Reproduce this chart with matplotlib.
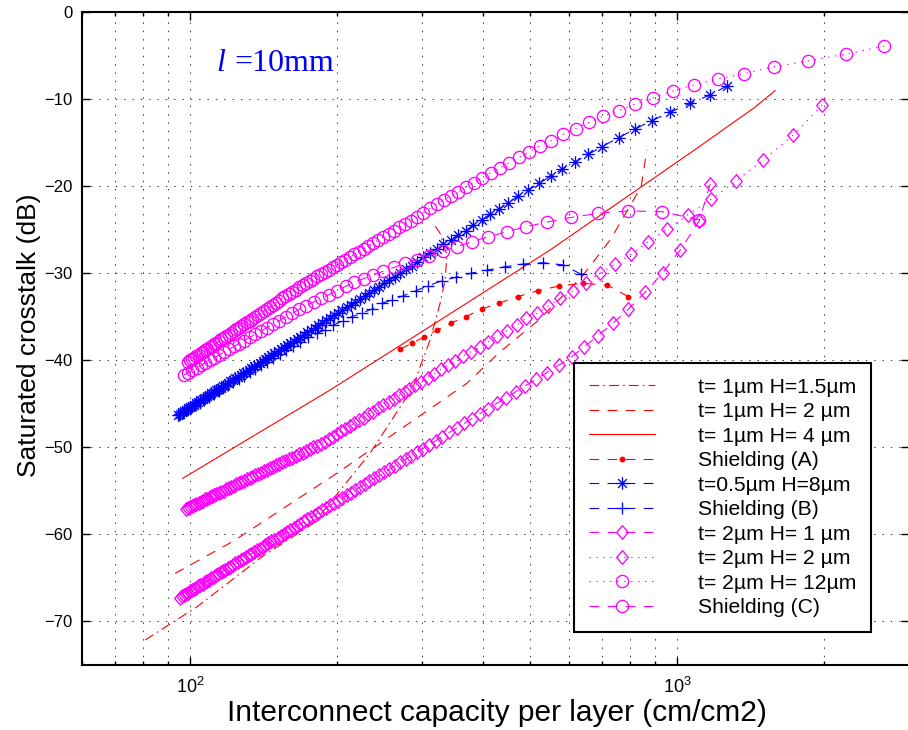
import matplotlib
matplotlib.use("Agg")
import matplotlib.pyplot as plt
from matplotlib.path import Path
from matplotlib.ticker import FixedLocator, NullFormatter

plt.rcParams['font.family'] = ['Liberation Sans', 'DejaVu Sans']
plt.rcParams['mathtext.fontset'] = 'custom'
plt.rcParams['mathtext.rm'] = 'Liberation Sans'
plt.rcParams['mathtext.it'] = 'Liberation Sans:italic'
plt.rcParams['lines.scale_dashes'] = False

# ------------------------------------------------------------
# Data (x = interconnect capacity, y = dB)
# ------------------------------------------------------------

# t=1um H=1.5um (dash-dot, red)
X_T1_H15 = [80.9, 103.4, 140.6, 179.2, 234.2, 270.0, 287.4, 296.7, 311.1, 326.1, 334.0, 336.7, 326.1, 315.5]
Y_T1_H15 = [-72.18, -68.36, -62.61, -58.77, -50.72, -45.40, -43.07, -40.77, -37.70, -33.48, -30.80, -27.93, -25.44, -24.25]

# t=1um H=2um (dashed, red)
X_T1_H2 = [93.2, 122.9, 200.1, 370.1, 433.2, 515.1, 637.4, 728.6, 813.5, 843.6, 862.5, 867.8]
Y_T1_H2 = [-64.52, -60.80, -53.02, -42.68, -39.05, -35.60, -30.43, -26.21, -21.61, -20.08, -16.63, -15.86]

# t=1um H=4um (solid, red)
X_T1_H4 = [96.6, 193.9, 350.0, 548.6, 800.0, 1098.0, 1300.0, 1435.0, 1589.0]
Y_T1_H4 = [-53.6, -43.45, -34.32, -27.36, -21.0, -15.67, -12.76, -11.07, -9.04]

# Shielding (A)
X_SHIELD_A = [270.0, 285.3, 302.3, 322.0, 343.0, 368.3, 397.2, 431.6, 470.9, 517.6, 573.3, 640.4, 719.5, 794.3]
Y_SHIELD_A = [-38.77, -38.08, -37.36, -36.55, -35.75, -35.02, -34.14, -33.45, -32.72, -32.03, -31.49, -31.18, -31.41, -32.72]

# t=0.5um H=8um (blue stars)
X_T05_H8 = [1265, 1169, 1063, 967, 887, 820, 758, 701, 657, 618,
            581.5, 550, 521.5, 495, 472, 450.5, 431, 413, 397, 381.7,
            368, 355.5, 343, 331, 321, 311, 301, 293, 285, 277.6, 270,
            263.1, 256.5, 250.3, 244.4, 238.7, 233.3, 228.2, 223.2, 218.5, 213.9,
            209.6, 205.4, 201.4, 197.6, 193.8, 190.3, 186.8, 183.5, 180.3, 177.2,
            174.2, 171.3, 168.5, 165.8, 163.2, 160.6, 158.2, 155.8, 153.4, 151.2,
            149.0, 146.9, 144.8, 142.8, 140.9, 139.0, 137.1, 135.3, 133.6, 131.9,
            130.2, 128.6, 127.0, 125.4, 123.9, 122.5, 121.0, 119.6, 118.2, 116.9,
            115.6, 114.3, 113.1, 111.8, 110.6, 109.5, 108.3, 107.2, 106.1, 105.0,
            103.9, 102.9, 101.9, 100.9, 99.9, 99.0, 98.0, 97.1, 96.2, 95.3, 94.4]
Y_T05_H8 = [-8.51, -9.54, -10.49, -11.53, -12.49, -13.45, -14.45, -15.48, -16.36, -17.24,
            -18.05, -18.85, -19.69, -20.46, -21.15, -21.92, -22.64, -23.25, -23.91, -24.48,
            -25.14, -25.63, -26.21, -26.70, -27.24, -27.74, -28.20, -28.70, -29.20, -29.57, -30.03,
            -30.43, -30.83, -31.20, -31.58, -31.94, -32.30, -32.64, -32.98, -33.31, -33.64,
            -33.95, -34.27, -34.57, -34.87, -35.17, -35.45, -35.74, -36.01, -36.29, -36.55,
            -36.82, -37.08, -37.33, -37.58, -37.83, -38.08, -38.31, -38.55, -38.79, -39.01,
            -39.24, -39.46, -39.68, -39.90, -40.11, -40.32, -40.53, -40.73, -40.93, -41.13,
            -41.33, -41.52, -41.71, -41.91, -42.09, -42.27, -42.46, -42.64, -42.82, -43.00,
            -43.17, -43.34, -43.50, -43.69, -43.85, -44.01, -44.18, -44.33, -44.49, -44.65,
            -44.82, -44.97, -45.12, -45.27, -45.42, -45.56, -45.72, -45.86, -46.01, -46.15, -46.30]

# Shielding (B) (blue plus)
X_SHIELD_B = [635.3, 584.1, 531.5, 483.4, 443.5, 407.7, 377.1, 351.8, 328.7, 308.6,
              290.7, 274.2, 259.6, 247.5, 236.1, 225.2, 214.8, 205.9, 196.9, 189.3,
              182.0, 175.0, 168.2, 162.7, 157.6, 152.8, 148.3, 144.0, 140.0, 136.1,
              132.5, 129.1, 125.9, 122.8, 119.8, 117.0, 114.4, 111.8, 109.3, 107.0,
              104.8, 102.6, 100.6, 98.6, 96.7, 94.8]
Y_SHIELD_B = [-30.15, -29.08, -28.82, -28.97, -29.28, -29.66, -30.03, -30.49, -30.89, -31.46,
              -32.03, -32.61, -33.10, -33.48, -34.14, -34.63, -35.02, -35.48, -35.98, -36.55,
              -36.93, -37.39, -37.90, -38.39, -38.86, -39.32, -39.76, -40.20, -40.61, -41.03,
              -41.43, -41.81, -42.18, -42.55, -42.91, -43.26, -43.60, -43.94, -44.27, -44.58,
              -44.89, -45.20, -45.49, -45.79, -46.08, -46.37]

# t=2um H=1um (magenta diamonds, dashed)
X_T2_H1 = [1169, 1110, 1014.4, 934.6, 859.7, 794.3, 737.9, 687.6, 645.3, 607.8, 573.3, 540.0,
           512.8, 488.0, 465.8, 445.2, 426.6, 409.3, 393.5, 378.8, 365.2, 352.5,
           340.7, 329.6, 319.3, 309.5, 300.4, 291.7, 283.6, 277.6, 270,
           263.1, 256.5, 250.3, 244.4, 238.7, 233.3, 228.2, 223.2, 218.5, 213.9,
           209.6, 205.4, 201.4, 197.6, 193.8, 190.3, 186.8, 183.5, 180.3, 177.2,
           174.2, 171.3, 168.5, 165.8, 163.2, 160.6, 158.2, 155.8, 153.4, 151.2,
           149.0, 146.9, 144.8, 142.8, 140.9, 139.0, 137.1, 135.3, 133.6, 131.9,
           130.2, 128.6, 127.0, 125.4, 123.9, 122.5, 121.0, 119.6, 118.2, 116.9,
           115.6, 114.3, 113.1, 111.8, 110.6, 109.5, 108.3, 107.2, 106.1, 105.0,
           103.9, 102.9, 101.9, 100.9, 99.9, 99.0, 98.0, 97.1, 96.2, 95.3]
Y_T2_H1 = [-19.77, -24.02, -27.36, -29.97, -32.21, -34.17, -35.78, -37.21, -38.47, -39.62, -40.55, -41.46,
           -42.23, -42.97, -43.66, -44.34, -44.97, -45.59, -46.18, -46.74, -47.29, -47.81,
           -48.32, -48.81, -49.29, -49.75, -50.20, -50.63, -51.05, -51.37, -51.78,
           -52.17, -52.55, -52.91, -53.27, -53.62, -53.96, -54.29, -54.62, -54.94, -55.26,
           -55.56, -55.86, -56.15, -56.44, -56.72, -56.99, -57.27, -57.54, -57.80, -58.06,
           -58.32, -58.56, -58.81, -59.05, -59.29, -59.53, -59.75, -59.98, -60.21, -60.42,
           -60.64, -60.86, -61.07, -61.28, -61.48, -61.68, -61.88, -62.08, -62.27, -62.46,
           -62.65, -62.84, -63.02, -63.21, -63.39, -63.56, -63.74, -63.92, -64.09, -64.26,
           -64.42, -64.59, -64.75, -64.92, -65.08, -65.23, -65.40, -65.55, -65.70, -65.86,
           -66.01, -66.16, -66.30, -66.45, -66.60, -66.73, -66.89, -67.02, -67.16, -67.30]

# t=2um H=2um (magenta diamonds, dotted)
X_T2_H2 = [1985, 1733, 1504, 1321, 1174, 1053.4, 952.4, 873.2, 803.3, 746.0,
           695.0, 650.4, 610.7, 575.3, 544.1, 515.1, 489.7, 468.7, 447.0, 427.6,
           409.8, 394.0, 377.6, 363.1, 350.0, 339.1, 327.2,
           317.1, 307.5, 298.5, 290.0, 281.9, 276.4,
           269.1, 262.2, 255.6, 249.3, 243.4, 237.7, 232.3, 227.1, 222.1, 217.4,
           212.9, 208.5, 204.3, 200.3, 196.4, 192.7, 189.1, 185.7, 182.4, 179.1,
           176.1, 173.1, 170.2, 167.4, 164.7, 162.0, 159.5, 157.0, 154.7, 152.3,
           150.1, 147.9, 145.8, 143.7, 141.7, 139.8, 137.9, 136.1, 134.3, 132.5,
           130.8, 129.2, 127.5, 126.0, 124.4, 122.9, 121.5, 120.0, 118.6, 117.3,
           115.9, 114.6, 113.3, 112.1, 110.9, 109.7, 108.5, 107.4, 106.2, 105.2,
           104.1, 103.0, 102.0, 101.0, 100.0, 99.0, 98.0]
Y_T2_H2 = [-10.69, -14.14, -17.01, -19.43, -21.55, -23.28, -24.98, -26.40, -27.85, -29.00,
           -30.03, -31.11, -32.10, -32.91, -33.79, -34.64, -35.20, -35.98, -36.67, -37.24,
           -37.90, -38.47, -39.05, -39.54, -40.08, -40.57, -41.07,
           -41.56, -42.03, -42.48, -42.91, -43.34, -43.64,
           -44.04, -44.44, -44.82, -45.20, -45.56, -45.92, -46.26, -46.61, -46.95, -47.27,
           -47.58, -47.90, -48.21, -48.50, -48.80, -49.09, -49.37, -49.62, -49.83, -50.04,
           -50.24, -50.44, -50.64, -50.83, -51.02, -51.22, -51.40, -51.58, -51.76, -51.94,
           -52.11, -52.28, -52.45, -52.62, -52.79, -52.95, -53.10, -53.26, -53.42, -53.57,
           -53.73, -53.87, -54.03, -54.16, -54.31, -54.45, -54.59, -54.74, -54.87, -55.00,
           -55.14, -55.28, -55.41, -55.53, -55.66, -55.79, -55.92, -56.03, -56.17, -56.28,
           -56.40, -56.53, -56.64, -56.76, -56.87, -56.99, -57.11]

# t=2um H=12um (magenta circles, dotted)
X_T2_H12 = [2661, 2223, 1860, 1584, 1375, 1212, 1081, 980, 892, 820,
            758, 706, 660, 619, 583, 551, 523, 497, 474, 452.5,
            433, 414.5, 398, 383, 369, 355.5, 343.5, 332, 321, 311,
            301, 293, 284, 276.4,
            269.1, 262.2, 255.6, 249.3, 243.4, 237.7, 232.3, 227.1, 222.1, 217.4,
            212.9, 208.5, 204.3, 200.3, 196.4, 192.7, 189.1, 185.7, 182.4, 179.1,
            176.1, 173.1, 170.2, 167.4, 164.7, 162.0, 159.5, 157.0, 154.7, 152.3,
            150.1, 147.9, 145.8, 143.7, 141.7, 139.8, 137.9, 136.1, 134.3, 132.5,
            130.8, 129.2, 127.5, 126.0, 124.4, 122.9, 121.5, 120.0, 118.6, 117.3,
            115.9, 114.6, 113.3, 112.1, 110.9, 109.7, 108.5, 107.4, 106.2, 105.2,
            104.1, 103.0, 102.0, 101.0, 100.0, 99.0]
Y_T2_H12 = [-3.91, -4.83, -5.63, -6.28, -7.07, -7.70, -8.39, -9.08, -9.85, -10.57,
            -11.34, -11.95, -12.68, -13.41, -14.06, -14.79, -15.40, -16.06, -16.70, -17.32,
            -17.90, -18.47, -19.05, -19.62, -20.08, -20.65, -21.11, -21.61, -22.07, -22.57,
            -23.07, -23.53, -23.99, -24.37,
            -24.76, -25.13, -25.50, -25.87, -26.21, -26.56, -26.89, -27.22, -27.54, -27.85,
            -28.15, -28.46, -28.75, -29.04, -29.33, -29.60, -29.88, -30.14, -30.40, -30.67,
            -30.91, -31.16, -31.40, -31.65, -31.91, -32.18, -32.44, -32.69, -32.93, -33.19,
            -33.43, -33.67, -33.90, -34.14, -34.36, -34.59, -34.81, -35.02, -35.24, -35.46,
            -35.67, -35.87, -36.09, -36.28, -36.49, -36.69, -36.87, -37.08, -37.27, -37.45,
            -37.64, -37.83, -38.01, -38.19, -38.36, -38.54, -38.72, -38.88, -39.07, -39.22,
            -39.39, -39.57, -39.73, -39.89, -40.05, -40.22]

# Shielding (C) (magenta circles, dashed)
X_SHIELD_C = [1111, 930.0, 794.3, 688.2, 605.8, 541.6, 489.1, 447.0, 409.8, 378.8, 352.9,
              330.0, 310.0, 292.2, 276.4, 262.2, 249.4, 237.8, 227.2, 217.5, 208.6,
              200.4, 192.8, 185.8, 179.3, 173.2, 167.5, 162.2, 157.2, 152.5, 148.1,
              143.9, 139.9, 136.2, 132.7, 129.3, 126.1, 123.1, 120.2, 117.4, 114.8,
              112.2, 109.8, 107.5, 105.3, 103.2, 101.1, 99.1, 97.3]
Y_SHIELD_C = [-23.90, -22.95, -22.87, -23.14, -23.62, -24.14, -24.68, -25.26, -25.83, -26.40, -26.98,
              -27.50, -27.99, -28.46, -28.90, -29.36, -29.80, -30.23, -30.64, -31.04, -31.54,
              -32.02, -32.48, -32.92, -33.35, -33.76, -34.16, -34.61, -35.04, -35.46, -35.87,
              -36.27, -36.66, -37.03, -37.40, -37.76, -38.11, -38.44, -38.77, -39.10, -39.41,
              -39.73, -40.03, -40.32, -40.61, -40.89, -41.17, -41.45, -41.71]

LABELS = [u"t= 1\u00b5m H=1.5\u00b5m", u"t= 1\u00b5m H= 2 \u00b5m", u"t= 1\u00b5m H= 4 \u00b5m",
          "Shielding (A)", u"t=0.5\u00b5m H=8\u00b5m", "Shielding (B)",
          u"t= 2\u00b5m H= 1 \u00b5m", u"t= 2\u00b5m H= 2 \u00b5m", u"t= 2\u00b5m H= 12\u00b5m",
          "Shielding (C)"]

Y_TICKS = [0, -10, -20, -30, -40, -50, -60, -70]
X_MAJOR = [100, 1000]
X_MINOR = [60, 70, 80, 90, 200, 300, 400, 500, 600, 700, 800, 900, 2000, 3000]

# ------------------------------------------------------------
# Styles (MATLAB-like)
# ------------------------------------------------------------
RED, BLUE, MAG = "#ff0000", "#0000ff", "#ff00ff"
DASHED = (0, (7, 6))
DOTTED = (0, (1.0, 4.0))
DASHDOT = (0, (7, 3, 1.2, 3))

DIAMOND = Path([(0, 1), (0.85, 0), (0, -1), (-0.85, 0), (0, 1)],
               [Path.MOVETO, Path.LINETO, Path.LINETO, Path.LINETO, Path.CLOSEPOLY])
ASTERISK = Path([(0, -1), (0, 1), (-1, 0), (1, 0),
                 (-0.707, -0.707), (0.707, 0.707), (-0.707, 0.707), (0.707, -0.707)],
                [Path.MOVETO, Path.LINETO] * 4)

LW = 0.8
MEW = 0.95

fig = plt.figure(figsize=(9.08, 7.30), dpi=100)
ax = fig.add_axes([82 / 908, (730 - 664.5) / 730, 827.5 / 908, 652.5 / 730])

ax.plot(X_T1_H15, Y_T1_H15, color=RED, lw=LW, linestyle=DASHDOT, label=LABELS[0])
ax.plot(X_T1_H2, Y_T1_H2, color=RED, lw=LW, linestyle=DASHED, label=LABELS[1])
ax.plot(X_T1_H4, Y_T1_H4, color=RED, lw=LW, linestyle="-", label=LABELS[2])
ax.plot(X_SHIELD_A, Y_SHIELD_A, color=RED, lw=LW, linestyle=DASHED,
        marker="o", ms=3.2, mfc=RED, mec=RED, label=LABELS[3])
ax.plot(X_T05_H8, Y_T05_H8, color=BLUE, lw=LW, linestyle=DASHED,
        marker=ASTERISK, ms=9, mfc="none", mec=BLUE, mew=MEW, label=LABELS[4])
ax.plot(X_SHIELD_B, Y_SHIELD_B, color=BLUE, lw=LW, linestyle=DASHED,
        marker="+", ms=9, mec=BLUE, mew=MEW, label=LABELS[5])
ax.plot(X_T2_H1, Y_T2_H1, color=MAG, lw=LW, linestyle=DASHED,
        marker=DIAMOND, ms=9.8, mfc="none", mec=MAG, mew=MEW, label=LABELS[6])
ax.plot(X_T2_H2, Y_T2_H2, color=MAG, lw=LW, linestyle=DOTTED,
        marker=DIAMOND, ms=9.8, mfc="none", mec=MAG, mew=MEW, label=LABELS[7])
ax.plot(X_T2_H12, Y_T2_H12, color=MAG, lw=LW, linestyle=DOTTED,
        marker="o", ms=8.8, mfc="none", mec=MAG, mew=MEW, label=LABELS[8])
ax.plot(X_SHIELD_C, Y_SHIELD_C, color=MAG, lw=LW, linestyle=DASHED,
        marker="o", ms=8.8, mfc="none", mec=MAG, mew=MEW, label=LABELS[9])

ax.set_xscale("log")
ax.set_xlim(60, 3000)
ax.set_ylim(-75, 0)
ax.set_yticks(Y_TICKS)
ax.xaxis.set_major_locator(FixedLocator(X_MAJOR))
ax.xaxis.set_minor_locator(FixedLocator(X_MINOR))
ax.xaxis.set_minor_formatter(NullFormatter())

grid_kw = dict(color="#333333", linestyle=(0, (1.0, 5.0)), linewidth=0.7)
ax.grid(True, which="both", axis="x", **grid_kw)
ax.grid(True, which="major", axis="y", **grid_kw)
ax.set_axisbelow(True)

ax.tick_params(which="both", direction="in", top=True, right=True, width=1.0, labelsize=12)
ax.tick_params(which="major", length=6)
ax.tick_params(which="minor", length=3)
ax.tick_params(axis="y", pad=7)
ax.tick_params(axis="x", pad=9, labelsize=13)
for sp in ax.spines.values():
    sp.set_linewidth(1.5)

ax.set_xlabel("Interconnect capacity per layer (cm/cm2)", fontsize=21.5)
ax.set_ylabel("Saturated crosstalk (dB)", fontsize=19)
ax.xaxis.set_label_coords(0.5015, -0.053)
ax.yaxis.set_label_coords(-0.050, 0.505)

leg = ax.legend(loc="upper left", bbox_to_anchor=((574 - 82) / 827.5, (664.5 - 363) / 652.5),
                borderaxespad=0, fontsize=15.2, numpoints=1, fancybox=False,
                edgecolor="black", framealpha=1, borderpad=0.7, labelspacing=0.26,
                handlelength=3.15, handletextpad=2.0)
leg.get_frame().set_linewidth(1.5)

fig.text(216 / 908, 1 - 71 / 730, "l", fontfamily="Liberation Serif", style="italic",
         fontsize=23, color=BLUE, va="baseline")
fig.text(234 / 908, 1 - 71 / 730, "=10mm", fontfamily="Liberation Serif",
         fontsize=23, color=BLUE, va="baseline")

fig.savefig("out.png", dpi=100)
